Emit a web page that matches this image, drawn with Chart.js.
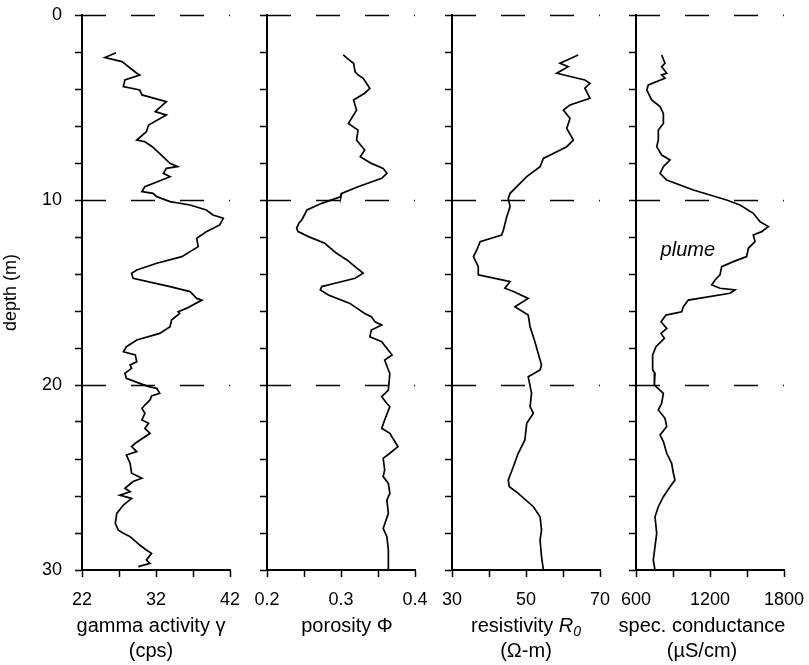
<!DOCTYPE html>
<html>
<head>
<meta charset="utf-8">
<script src="https://cdn.jsdelivr.net/npm/chart.js@4/dist/chart.umd.min.js"></script>
<style>
  body { margin: 0; background: #fff; }
  #wrap { position: relative; width: 809px; height: 665px; background: #fff; }
  #wrap canvas { position: absolute; left: 0; top: 0; }
</style>
</head>
<body>
<div id="wrap">
  <canvas id="gamma" width="809" height="665"></canvas>
  <canvas id="porosity" width="809" height="665"></canvas>
  <canvas id="resistivity" width="809" height="665"></canvas>
  <canvas id="conductance" width="809" height="665"></canvas>
</div>
<script>
// depth axis (m), shared by all four logs
const depthTicks = [0, 2, 4, 6, 8, 10, 12, 14, 16, 18, 20, 22, 24, 26, 28, 30];
const depthLabels = [0, 10, 20, 30];
const dashDepths = [0, 10, 20];

// gamma activity (cps)
const gammaDepth = [2.04, 2.30, 2.52, 3.15, 3.24, 3.51, 3.87, 4.05, 4.32, 4.68, 5.22, 5.41, 5.95, 6.31, 6.76, 6.85,
  7.12, 8.02, 8.20, 8.29, 8.56, 8.74, 9.28, 9.55, 9.64, 9.82, 10.09, 10.27, 10.54, 10.81, 10.99, 11.35, 11.71, 11.80,
  12.07, 12.52, 12.79, 13.06, 13.42, 13.78, 13.96, 14.23, 14.68, 14.95, 15.32, 15.41, 15.86, 16.04, 16.13, 16.49,
  16.85, 17.21, 17.57, 17.93, 18.20, 18.38, 18.74, 18.92, 19.10, 19.37, 19.64, 19.91, 20.09, 20.18, 20.45, 20.59,
  20.81, 21.08, 21.26, 21.53, 21.89, 22.07, 22.34, 22.61, 23.15, 23.33, 23.60, 23.78, 24.23, 24.77, 25.04, 25.22,
  25.58, 25.77, 25.95, 26.13, 26.49, 26.94, 27.48, 27.84, 28.02, 28.20, 28.65, 28.92, 29.10, 29.46, 29.64, 29.82];
const gammaCps = [26.6, 25.1, 27.4, 29.4, 29.8, 27.8, 27.6, 29.8, 30.1, 33.4, 31.9, 33.4, 31.0, 30.7, 29.4, 30.5,
  31.5, 33.9, 34.9, 33.4, 33.0, 33.9, 30.5, 30.1, 31.6, 32.1, 33.9, 36.6, 38.8, 39.7, 41.1, 40.6, 38.8, 38.5,
  37.5, 37.7, 36.6, 35.5, 32.1, 29.4, 28.7, 28.9, 33.9, 36.6, 37.5, 38.2, 36.1, 35.0, 35.2, 34.1,
  33.9, 32.5, 29.4, 28.0, 27.6, 29.2, 29.4, 28.5, 28.7, 27.8, 28.0, 29.8, 31.0, 32.1, 32.5, 31.4,
  31.2, 30.5, 30.1, 30.5, 30.1, 31.0, 30.5, 31.2, 29.2, 28.7, 29.4, 28.0, 28.5, 28.7, 30.1, 28.9,
  27.8, 28.5, 27.1, 28.7, 27.6, 26.7, 26.5, 26.9, 27.6, 28.5, 29.8, 30.7, 31.4, 30.7, 31.2, 29.6];
const gammaTicks = [22, 27, 32, 37, 42];
const gammaLabels = [22, 32, 42];

// porosity
const porosityDepth = [2.16, 2.40, 2.61, 3.06, 3.24, 3.42, 3.96, 4.23, 4.59, 5.14, 5.86, 6.22, 6.76, 7.30, 7.66,
  8.02, 8.29, 8.56, 8.83, 9.28, 9.64, 9.82, 10.18, 10.54, 11.08, 11.26, 11.53, 11.71, 11.98, 12.34, 12.88, 13.24,
  13.60, 13.96, 14.23, 14.50, 14.68, 14.86, 15.14, 15.59, 16.13, 16.31, 16.58, 16.76, 17.03, 17.39, 17.66, 18.38,
  18.65, 19.19, 19.37, 20.27, 20.63, 21.00, 21.17, 21.89, 22.34, 22.61, 23.33, 23.69, 23.96, 24.59, 24.95, 25.32,
  25.86, 26.22, 26.94, 27.75, 28.20, 28.92, 30.00];
const porosityVal = [0.303, 0.310, 0.317, 0.319, 0.323, 0.330, 0.339, 0.332, 0.317, 0.321, 0.310, 0.323, 0.321, 0.332, 0.326,
  0.341, 0.357, 0.362, 0.355, 0.323, 0.301, 0.300, 0.274, 0.254, 0.247, 0.243, 0.240, 0.242, 0.256, 0.278, 0.294, 0.308,
  0.319, 0.330, 0.319, 0.292, 0.274, 0.272, 0.283, 0.312, 0.332, 0.341, 0.346, 0.355, 0.341, 0.339, 0.355, 0.369,
  0.359, 0.364, 0.366, 0.364, 0.355, 0.362, 0.366, 0.359, 0.355, 0.366, 0.377, 0.366, 0.357, 0.359, 0.357, 0.364,
  0.366, 0.362, 0.364, 0.357, 0.362, 0.364, 0.364];
const porosityTicks = [0.2, 0.25, 0.3, 0.35, 0.4];
const porosityLabels = [0.2, 0.3, 0.4];

// resistivity R0 (ohm-m)
const resistDepth = [2.16, 2.61, 2.79, 3.15, 3.51, 3.69, 3.96, 4.50, 4.86, 5.14, 5.59, 6.13, 6.76, 7.12, 7.75, 8.20,
  8.74, 9.64, 9.91, 10.36, 10.90, 11.62, 11.89, 12.25, 12.70, 13.06, 13.60, 14.05, 14.41, 14.77, 14.95, 15.32,
  15.77, 16.22, 16.85, 17.66, 18.92, 19.19, 19.55, 20.45, 21.17, 21.53, 22.07, 22.97, 23.69, 24.41, 25.14, 25.50,
  25.86, 26.58, 27.12, 27.84, 28.38, 29.28, 30.00];
const resistVal = [64.1, 59.2, 61.4, 58.3, 65.9, 67.3, 65.9, 67.3, 61.9, 60.1, 61.9, 61.0, 62.8, 61.0, 54.7, 53.8,
  50.2, 45.7, 45.2, 45.7, 44.8, 43.9, 43.4, 37.6, 36.7, 35.8, 37.1, 37.1, 45.7, 44.3, 46.6, 50.6,
  47.0, 50.6, 51.1, 52.4, 54.2, 53.8, 50.6, 51.5, 51.1, 52.0, 50.2, 49.7, 47.9, 46.6, 45.2, 45.5,
  47.9, 52.0, 53.8, 54.2, 53.8, 54.2, 54.7];
const resistTicks = [30, 40, 50, 60, 70];
const resistLabels = [30, 50, 70];

// specific conductance (uS/cm)
const condDepth = [2.16, 2.61, 2.79, 3.15, 3.24, 3.42, 3.78, 4.05, 4.59, 4.95, 5.32, 5.86, 6.22, 6.76, 7.12, 7.57,
  7.84, 8.20, 8.56, 8.92, 9.46, 9.73, 10.00, 10.27, 10.72, 11.17, 11.44, 11.71, 11.89, 12.25, 12.61, 13.06, 13.33,
  13.60, 14.05, 14.32, 14.59, 14.77, 14.86, 15.04, 15.41, 15.77, 16.04, 16.22, 16.58, 16.94, 17.21, 17.48, 17.93,
  18.38, 19.19, 19.37, 20.00, 20.45, 20.99, 21.35, 21.80, 22.25, 22.70, 23.06, 23.69, 24.23, 24.77, 25.14, 25.50,
  26.04, 26.58, 27.12, 28.02, 28.74, 29.46, 30.00];
const condVal = [808, 835, 808, 849, 808, 835, 700, 687, 727, 795, 822, 822, 781, 781, 768, 808,
  876, 822, 795, 849, 1065, 1200, 1335, 1443, 1551, 1605, 1673, 1619, 1551, 1565, 1511, 1497, 1389,
  1295, 1281, 1241, 1214, 1281, 1403, 1362, 1024, 984, 970, 843, 803, 849, 803, 830, 762,
  735, 735, 754, 749, 822, 808, 781, 835, 849, 795, 822, 849, 889, 903, 916, 876,
  822, 781, 754, 768, 754, 740, 754];
const condTicks = [600, 900, 1200, 1500, 1800];
const condLabels = [600, 1200, 1800];
const plumeNote = { text: 'plume', x: 1020, y: 12.7 };

Chart.defaults.font.family = '"Liberation Sans", Arial, Helvetica, sans-serif';
Chart.defaults.font.size = 17;
Chart.defaults.color = '#000';

// dashed depth markers, two-line axis titles and the in-panel note
const extras = {
  id: 'extras',
  afterDatasetsDraw(chart, args, opts) {
    const ctx = chart.ctx;
    const area = chart.chartArea;
    const ys = chart.scales.y;
    const fam = Chart.defaults.font.family;
    ctx.save();
    ctx.strokeStyle = '#000';
    ctx.lineWidth = 1.6;
    ctx.setLineDash([24, 25]);
    dashDepths.forEach(d => {
      const y = Math.round(ys.getPixelForValue(d)) + 0.5;
      ctx.beginPath();
      ctx.moveTo(area.left, y);
      ctx.lineTo(area.right, y);
      ctx.stroke();
    });
    ctx.setLineDash([]);

    const cx = (area.left + area.right) / 2 + (opts.shift || 0);
    ctx.fillStyle = '#000';
    ctx.textBaseline = 'alphabetic';
    opts.lines.forEach((segs, i) => {
      const y = area.bottom + 62 + i * 25;
      const fonts = segs.map(s => (s.italic ? 'italic ' : '') + (s.sub ? 14 : 20) + 'px ' + fam);
      let total = 0;
      segs.forEach((s, j) => { ctx.font = fonts[j]; total += ctx.measureText(s.t).width; });
      let x = cx - total / 2;
      ctx.textAlign = 'left';
      segs.forEach((s, j) => {
        ctx.font = fonts[j];
        ctx.fillText(s.t, x, y + (s.sub ? 4 : 0));
        x += ctx.measureText(s.t).width;
      });
    });

    if (opts.note) {
      ctx.font = 'italic 20px ' + fam;
      ctx.textAlign = 'center';
      ctx.textBaseline = 'middle';
      ctx.fillText(opts.note.text, chart.scales.x.getPixelForValue(opts.note.x), ys.getPixelForValue(opts.note.y));
    }
    ctx.restore();
  }
};

const PANEL_W = 148;

function makePanel(id, p) {
  const isLabel = (list, v) => list.some(l => Math.abs(l - v) < 1e-9);
  return new Chart(document.getElementById(id), {
    type: 'scatter',
    data: {
      datasets: [{
        data: p.depth.map((d, i) => ({ x: p.values[i], y: d })),
        showLine: true,
        borderColor: '#000',
        borderWidth: 1.7,
        pointRadius: 0,
        tension: 0
      }]
    },
    options: {
      responsive: false,
      animation: false,
      devicePixelRatio: 1,
      layout: { padding: { left: p.left - p.axisSpace, right: 809 - p.left - PANEL_W, top: 15, bottom: 0 } },
      plugins: {
        legend: { display: false },
        tooltip: { enabled: false },
        extras: { lines: p.title, shift: p.shift, note: p.note }
      },
      scales: {
        x: {
          type: 'linear',
          position: 'bottom',
          min: p.ticks[0],
          max: p.ticks[p.ticks.length - 1],
          afterBuildTicks: s => { s.ticks = p.ticks.map(v => ({ value: v })); },
          afterFit: s => { s.height = 95; s.paddingLeft = 0; s.paddingRight = 0; },
          ticks: {
            padding: 12,
            maxRotation: 0,
            autoSkip: false,
            font: { size: 18 },
            callback: v => isLabel(p.labels, v) ? String(v) : ''
          },
          grid: { drawOnChartArea: false, tickLength: 7, tickWidth: 1.5, tickColor: '#000' },
          border: { color: '#000', width: 2 }
        },
        y: {
          type: 'linear',
          reverse: true,
          min: 0,
          max: 30,
          afterBuildTicks: s => { s.ticks = depthTicks.map(v => ({ value: v })); },
          afterFit: s => { s.width = p.axisSpace; s.paddingTop = 0; s.paddingBottom = 0; },
          ticks: {
            padding: 13,
            autoSkip: false,
            font: { size: 18 },
            callback: v => (p.showDepth && isLabel(depthLabels, v)) ? String(v) : ''
          },
          title: { display: !!p.showDepth, text: 'depth (m)', font: { size: 18 }, padding: { top: 0, bottom: 0 } },
          grid: { drawOnChartArea: false, tickLength: 7, tickWidth: 1.5, tickColor: '#000' },
          border: { color: '#000', width: 2 }
        }
      }
    },
    plugins: [extras]
  });
}

makePanel('gamma', {
  depth: gammaDepth, values: gammaCps, ticks: gammaTicks, labels: gammaLabels,
  left: 82, axisSpace: 82, showDepth: true, shift: -5,
  title: [[{ t: 'gamma activity \u03b3' }], [{ t: '(cps)' }]]
});
makePanel('porosity', {
  depth: porosityDepth, values: porosityVal, ticks: porosityTicks, labels: porosityLabels,
  left: 267, axisSpace: 20, shift: 6,
  title: [[{ t: 'porosity \u03a6' }]]
});
makePanel('resistivity', {
  depth: resistDepth, values: resistVal, ticks: resistTicks, labels: resistLabels,
  left: 452, axisSpace: 20, shift: 0,
  title: [[{ t: 'resistivity ' }, { t: 'R', italic: true }, { t: '0', italic: true, sub: true }], [{ t: '(\u03a9-m)' }]]
});
makePanel('conductance', {
  depth: condDepth, values: condVal, ticks: condTicks, labels: condLabels,
  left: 636, axisSpace: 20, shift: -8, note: plumeNote,
  title: [[{ t: 'spec. conductance' }], [{ t: '(\u00b5S/cm)' }]]
});
</script>
</body>
</html>
